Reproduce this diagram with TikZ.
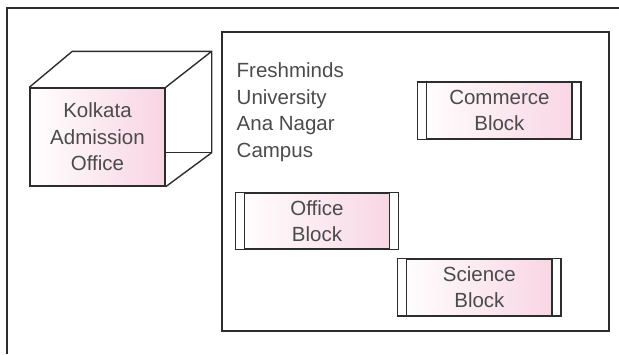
\documentclass[tikz,border=0pt]{standalone}
\usepackage{fontspec}
\setmainfont{Liberation Sans}
\usetikzlibrary{positioning}

\definecolor{blockpink}{RGB}{248,212,226}
\definecolor{linegray}{RGB}{45,45,45}
\definecolor{textgray}{RGB}{75,75,75}

\begin{document}
\begin{tikzpicture}[x=1pt,y=-1pt,line width=1.4pt,
                    label text/.style={font=\fontsize{20.5}{26.5}\selectfont,text=textgray},
                    block node/.style={rectangle,draw=linegray,label text,align=center,
                      left color=white,right color=blockpink,
                      minimum width=162pt,minimum height=56pt,inner sep=0pt}]
  \useasboundingbox (0,0) rectangle (619,354);
  % frames
  \draw[linegray,line width=1.6pt] (7,354) -- (7,8) -- (619,8);
  \draw[linegray] (222,32) rectangle (609,331);
  % kolkata cube
  \node[rectangle,draw=linegray,label text,align=center,left color=white,right color=blockpink,
        minimum width=135pt,minimum height=98pt,inner sep=0pt] (kolkata) at (97.5,137)
        {Kolkata\\Admission\\Office};
  \draw[linegray,line join=round] (kolkata.north west) -- ([shift={(43,-36)}]kolkata.north west)
        -- ([shift={(46,-36)}]kolkata.north east) -- (kolkata.north east);
  \draw[linegray,line join=round] ([shift={(46,-36)}]kolkata.north east)
        -- ([shift={(46,-34)}]kolkata.south east) -- (kolkata.south east);
  \draw[linegray] ([shift={(0,-34)}]kolkata.south east) -- ([shift={(46,-34)}]kolkata.south east);
  % campus
  \node[label text,align=left,anchor=west,inner sep=0pt] (campus) at (236,112)
        {Freshminds\\University\\Ana Nagar\\Campus};
  \node[block node] (office) at (317,221) {Office\\Block};
  \node[block node] (commerce) [above right=53pt and 19pt of office] {Commerce\\Block};
  \node[block node] (science) [below right=9pt and -1pt of office] {Science\\Block};
  % side strips
  \foreach \blk in {office,commerce,science} {
    \draw[linegray,fill=white] (\blk.north west) rectangle ([xshift=9pt]\blk.south west);
    \draw[linegray,fill=white] ([xshift=-9pt]\blk.north east) rectangle (\blk.south east);
    \draw[linegray] (\blk.north west) rectangle (\blk.south east);
  }
\end{tikzpicture}
\end{document}
